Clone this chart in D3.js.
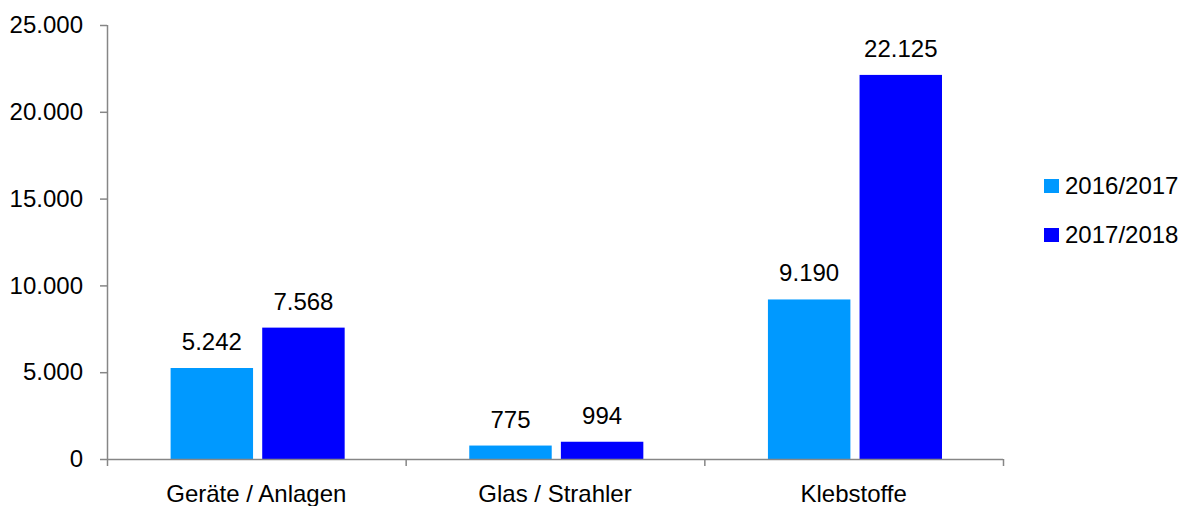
<!DOCTYPE html>
<html>
<head>
<meta charset="utf-8">
<script src="https://cdn.jsdelivr.net/npm/d3@7"></script>
<style>
  html, body { margin: 0; padding: 0; background: #fff; }
  svg { display: block; font-family: "Liberation Sans", Arial, sans-serif; }
</style>
</head>
<body>
<svg id="chart" width="1186" height="506"></svg>
<script>
const categories = ["Geräte / Anlagen", "Glas / Strahler", "Klebstoffe"];
const seriesNames = ["2016/2017", "2017/2018"];
const series2016 = [5242, 775, 9190];
const series2017 = [7568, 994, 22125];
const yTicks = [0, 5000, 10000, 15000, 20000, 25000];
const colors = ["#0099FF", "#0000FF"];

const seriesValues = [series2016, series2017];

(function () {
const svg = d3.select("#chart");
const mLeft = 107, mRight = 1003, mTop = 25, mBottom = 459;
const fontSize = 24;
const axisColor = "#868686";

const locale = d3.formatLocale({ decimal: ",", thousands: ".", grouping: [3], currency: ["", "€"] });
const fmt = locale.format(",d");

const x0 = d3.scaleBand().domain(categories).range([mLeft, mRight]).paddingInner(0).paddingOuter(0);
const outerPad = 62.3, shift = 1.3;
const x1 = d3.scaleBand().domain(seriesNames)
  .range([outerPad + shift, x0.bandwidth() - outerPad + shift]).paddingInner(0.1).paddingOuter(0);
const y = d3.scaleLinear().domain([0, 25000]).range([mBottom, mTop]);

// bars
const groups = svg.append("g").selectAll("g").data(categories).join("g")
  .attr("transform", d => `translate(${x0(d)},0)`);

groups.selectAll("rect")
  .data((c, i) => seriesNames.map((s, j) => ({ s, v: seriesValues[j][i], j })))
  .join("rect")
  .attr("x", d => x1(d.s))
  .attr("y", d => y(d.v))
  .attr("width", x1.bandwidth())
  .attr("height", d => y(0) - y(d.v))
  .attr("fill", d => colors[d.j]);

groups.selectAll("text.val")
  .data((c, i) => seriesNames.map((s, j) => ({ s, v: seriesValues[j][i], j })))
  .join("text")
  .attr("class", "val")
  .attr("x", d => x1(d.s) + x1.bandwidth() / 2)
  .attr("y", d => y(d.v) - 18)
  .attr("text-anchor", "middle")
  .attr("font-size", fontSize)
  .attr("fill", "#000")
  .text(d => fmt(d.v));

// y axis
const yAxis = svg.append("g").attr("transform", `translate(${mLeft},0)`)
  .call(d3.axisLeft(y).tickValues(yTicks).tickSize(7).tickPadding(17).tickFormat(fmt));
yAxis.select(".domain").attr("stroke", axisColor).attr("stroke-width", 1.5).attr("d", `M0.5,${mTop}V${mBottom}`);
yAxis.selectAll(".tick line").attr("stroke", axisColor).attr("stroke-width", 1.5);
yAxis.selectAll(".tick text").attr("font-size", fontSize).attr("fill", "#000")
  .attr("font-family", "Liberation Sans, Arial, sans-serif");

// x axis
const boundaries = [mLeft].concat(categories.map(c => x0(c) + x0.bandwidth()));
const xg = svg.append("g");
xg.append("line").attr("x1", mLeft).attr("x2", mRight).attr("y1", mBottom + 0.5).attr("y2", mBottom + 0.5)
  .attr("stroke", axisColor).attr("stroke-width", 1.5);
xg.selectAll("line.tick").data(boundaries).join("line").attr("class", "tick")
  .attr("x1", d => d + 0.5).attr("x2", d => d + 0.5)
  .attr("y1", mBottom).attr("y2", mBottom + 7)
  .attr("stroke", axisColor).attr("stroke-width", 1.5);
xg.selectAll("text").data(categories).join("text")
  .attr("x", d => x0(d) + x0.bandwidth() / 2)
  .attr("y", 502)
  .attr("text-anchor", "middle")
  .attr("font-size", fontSize)
  .attr("fill", "#000")
  .text(d => d);

// legend
const legend = svg.append("g").selectAll("g").data(seriesNames).join("g")
  .attr("transform", (d, i) => `translate(1044,${179 + i * 49})`);
legend.append("rect").attr("width", 15).attr("height", 14).attr("fill", (d, i) => colors[i]);
legend.append("text").attr("x", 21).attr("y", 15).attr("font-size", fontSize).attr("fill", "#000").text(d => d);
})();
</script>
</body>
</html>
